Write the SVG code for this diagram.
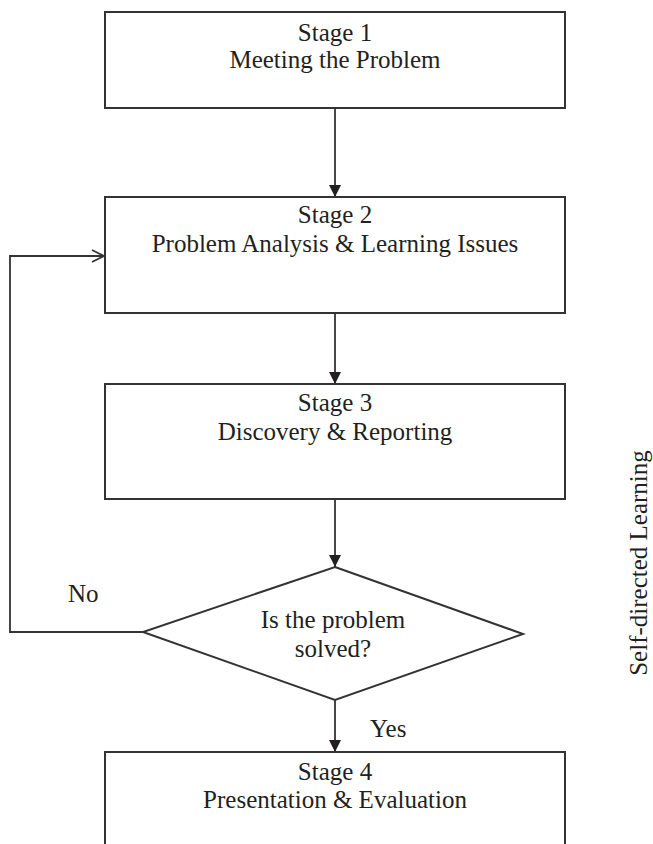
<svg xmlns="http://www.w3.org/2000/svg" width="653" height="844" viewBox="0 0 653 844">
  <style>
    .box { fill: #ffffff; stroke: #333333; stroke-width: 2; }
    .line { fill: none; stroke: #333333; stroke-width: 1.8; }
    .t { font-family: "Liberation Serif", "Times New Roman", serif; font-size: 25px; fill: #231f20; text-anchor: middle; }
    .lbl { font-family: "Liberation Serif", "Times New Roman", serif; font-size: 25px; fill: #231f20; }
  </style>
  <defs>
    <marker id="solid" viewBox="0 0 12 12" refX="12" refY="6" markerWidth="12" markerHeight="12" markerUnits="userSpaceOnUse" orient="auto">
      <path d="M0,0 L12,6 L0,12 Z" fill="#231f20"/>
    </marker>
    <marker id="open" viewBox="0 0 14 14" refX="13" refY="7" markerWidth="14" markerHeight="14" markerUnits="userSpaceOnUse" orient="auto">
      <path d="M1,1 L13,7 L1,13" fill="none" stroke="#333333" stroke-width="1.8"/>
    </marker>
  </defs>

  <rect width="653" height="844" fill="#ffffff"/>

  <!-- connectors -->
  <g id="connectors">
    <line class="line" x1="335" y1="108" x2="335" y2="197" marker-end="url(#solid)"/>
    <line class="line" x1="335" y1="313" x2="335" y2="384" marker-end="url(#solid)"/>
    <line class="line" x1="335" y1="499" x2="335" y2="567" marker-end="url(#solid)"/>
    <line class="line" x1="335" y1="700" x2="335" y2="752" marker-end="url(#solid)"/>
    <polyline class="line" points="143,632 10,632 10,256 104,256" marker-end="url(#open)"/>
    <text class="lbl" x="68" y="602">No</text>
    <text class="lbl" x="370" y="737">Yes</text>
  </g>

  <!-- stages -->
  <g id="stage1">
    <rect class="box" x="105" y="12" width="460" height="96"/>
    <text class="t" x="335" y="41">Stage 1</text>
    <text class="t" x="335" y="68">Meeting the Problem</text>
  </g>

  <g id="stage2">
    <rect class="box" x="105" y="197" width="460" height="116"/>
    <text class="t" x="335" y="223">Stage 2</text>
    <text class="t" x="335" y="252">Problem Analysis &amp; Learning Issues</text>
  </g>

  <g id="stage3">
    <rect class="box" x="105" y="384" width="460" height="115"/>
    <text class="t" x="335" y="411">Stage 3</text>
    <text class="t" x="335" y="440">Discovery &amp; Reporting</text>
  </g>

  <g id="decision">
    <polygon class="box" points="335,567 523,634 335,700 143,632"/>
    <text class="t" x="333" y="628">Is the problem</text>
    <text class="t" x="333" y="657">solved?</text>
  </g>

  <g id="stage4">
    <rect class="box" x="105" y="752" width="460" height="110"/>
    <text class="t" x="335" y="780">Stage 4</text>
    <text class="t" x="335" y="808">Presentation &amp; Evaluation</text>
  </g>

  <!-- side caption -->
  <g id="side-label">
    <text class="t" transform="translate(647,563) rotate(-90)" x="0" y="0">Self-directed Learning</text>
  </g>
</svg>
